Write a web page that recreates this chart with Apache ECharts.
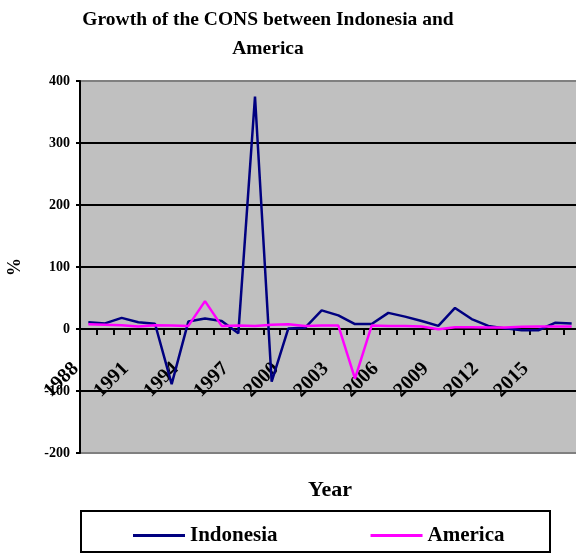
<!DOCTYPE html>
<html>
<head>
<meta charset="utf-8">
<script src="https://cdn.jsdelivr.net/npm/echarts@6/dist/echarts.min.js"></script>
<style>
  html, body { margin: 0; padding: 0; background: #fff; }
  #chart { width: 576px; height: 553px; }
</style>
</head>
<body>
<div id="chart"></div>
<script>
// Annual growth (%) of consumption, 1988-2017
const years = ['1988','1989','1990','1991','1992','1993','1994','1995','1996','1997',
               '1998','1999','2000','2001','2002','2003','2004','2005','2006','2007',
               '2008','2009','2010','2011','2012','2013','2014','2015','2016','2017'];
const indonesia = [11, 9, 18, 11, 8.5, -89, 12, 17, 13, -7,
                   375, -85, 1, 2, 30, 22, 8, 8, 26, 20,
                   13, 5, 34, 16, 5, 1, -2, -2, 10, 9];
const america = [7.5, 7, 6, 4, 6, 5.5, 5, 45, 5, 5.5,
                 5, 7, 7.5, 5, 5.5, 5.5, -80, 5.5, 5, 5,
                 4, -0.5, 3, 3, 2.5, 2.5, 3.5, 4, 4, 4];
const yTicks = { min: -200, max: 400, step: 100 };

const serif = '"Liberation Serif", "Times New Roman", Times, serif';
const chart = echarts.init(document.getElementById('chart'), null, { renderer: 'canvas' });

// plot box geometry
const plot = { left: 80, top: 81, width: 500, height: 372 };
// distance from the bottom of the plot up to the zero line
const zeroOffset = plot.height * (0 - yTicks.min) / (yTicks.max - yTicks.min);

chart.setOption({
  animation: false,
  backgroundColor: '#ffffff',
  title: {
    text: 'Growth of the CONS between Indonesia and\nAmerica',
    left: 263,
    top: 0,
    textAlign: 'center',
    textStyle: { fontFamily: serif, fontWeight: 'bold', fontSize: 19.5, lineHeight: 29, color: '#000' }
  },
  grid: {
    left: plot.left, top: plot.top, width: plot.width, height: plot.height,
    show: true, backgroundColor: '#C0C0C0', borderWidth: 0,
    containLabel: false,
    outerBoundsMode: 'none'
  },
  legend: {
    left: 128, top: 520,
    itemWidth: 52, itemHeight: 3, itemGap: 93,
    icon: 'rect',
    z: 5,
    textStyle: { fontFamily: serif, fontWeight: 'bold', fontSize: 21, color: '#000' },
    data: ['Indonesia', 'America']
  },
  graphic: [{
    type: 'rect', z: 1,
    shape: { x: 81, y: 511, width: 469, height: 41 },
    style: { fill: '#fff', stroke: '#000', lineWidth: 2 }
  }],
  xAxis: {
    type: 'category',
    data: years,
    boundaryGap: true,
    offset: -zeroOffset,
    name: 'Year',
    nameLocation: 'middle',
    nameGap: 150,
    nameTextStyle: { fontFamily: serif, fontWeight: 'bold', fontSize: 22, color: '#000' },
    axisLine: { onZero: false, lineStyle: { color: '#000', width: 2 } },
    axisTick: { show: true, interval: 0, inside: false, length: 6, lineStyle: { color: '#000', width: 2 } },
    axisLabel: {
      interval: 2, rotate: 45, margin: 24,
      padding: [0, 18, 0, 0],
      fontFamily: serif, fontWeight: 'bold', fontSize: 20, color: '#000'
    },
    splitLine: { show: false }
  },
  yAxis: {
    type: 'value',
    min: yTicks.min, max: yTicks.max, interval: yTicks.step,
    name: '%',
    nameLocation: 'middle',
    nameGap: 56,
    nameTextStyle: { fontFamily: serif, fontWeight: 'bold', fontSize: 18, color: '#000' },
    axisLine: { show: true, onZero: false, lineStyle: { color: '#000', width: 2 } },
    axisTick: { show: true, length: 4, lineStyle: { color: '#000', width: 2 } },
    axisLabel: { margin: 10, fontFamily: serif, fontWeight: 'bold', fontSize: 14, color: '#000' },
    splitLine: {
      show: true,
      lineStyle: { width: 2, color: ['#808080', '#000', '#000', '#000', '#000', '#000', '#808080'] }
    }
  },
  series: [
    {
      name: 'Indonesia', type: 'line', data: indonesia,
      showSymbol: false, symbol: 'none',
      lineStyle: { color: '#000080', width: 2.5 },
      itemStyle: { color: '#000080' }
    },
    {
      name: 'America', type: 'line', data: america,
      showSymbol: false, symbol: 'none',
      lineStyle: { color: '#FF00FF', width: 2.5 },
      itemStyle: { color: '#FF00FF' }
    }
  ]
});
</script>
</body>
</html>
